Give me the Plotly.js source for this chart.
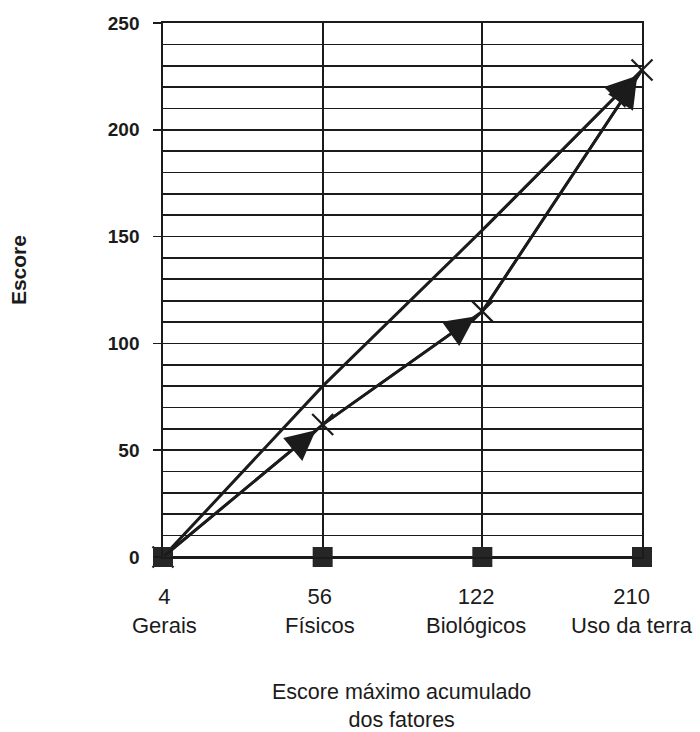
<!DOCTYPE html>
<html>
<head>
<meta charset="utf-8">
<script src="https://cdn.plot.ly/plotly-3.0.1.min.js"></script>
<style>html,body{margin:0;padding:0;background:#fff;}#chart{width:700px;height:732px;}</style>
</head>
<body>
<div id="chart"></div>
<script>
// ---- data ----
const maxScores = [4, 56, 122, 210];
const factorNames = ['Gerais', 'Físicos', 'Biológicos', 'Uso da terra'];
const scoreSeries = [0, 62, 115, 228];      // line with X markers and arrows
const upperSeries = [0, 80, 153, 228];      // plain upper line
const baseSeries = [0, 0, 0, 0];            // squares on the baseline
const yTickValues = [0, 50, 100, 150, 200, 250];

const ink = '#1b1b1b';
const categories = maxScores.map((s, i) => s + '<br>' + factorNames[i]);
// small leftward nudges of the category labels, as in the original print
const labelShift = [1, -3, -6, -10];

const traces = [
  {
    x: categories, y: upperSeries, type: 'scatter', mode: 'lines',
    line: {color: ink, width: 3}, cliponaxis: false, hoverinfo: 'skip'
  },
  {
    x: categories, y: scoreSeries, type: 'scatter', mode: 'lines+markers',
    line: {color: ink, width: 3},
    marker: {symbol: 'x-thin', size: 21, color: ink, line: {color: ink, width: 2.2}},
    cliponaxis: false, hoverinfo: 'skip'
  },
  {
    x: categories, y: baseSeries, type: 'scatter', mode: 'lines+markers',
    line: {color: ink, width: 2},
    marker: {symbol: 'square', size: 20, color: '#262626'},
    cliponaxis: false, hoverinfo: 'skip'
  }
];

const annotations = [];
function addArrow(series, i) {
  annotations.push({
    x: i, y: series[i], ax: i - 1, ay: series[i - 1],
    xref: 'x', yref: 'y', axref: 'x', ayref: 'y',
    showarrow: true, arrowhead: 2, arrowsize: 2.3, arrowwidth: 2.6,
    arrowcolor: ink, standoff: 9, text: ''
  });
}
for (let i = 1; i < scoreSeries.length; i++) addArrow(scoreSeries, i);
addArrow(upperSeries, upperSeries.length - 1);

// category labels under the axis
categories.forEach((c, i) => {
  annotations.push({
    text: c, showarrow: false,
    xref: 'x', yref: 'y', x: i, y: 0,
    xanchor: 'center', yanchor: 'top', yshift: -25, xshift: labelShift[i],
    font: {size: 22, color: ink}
  });
});

// y-axis title placed as a rotated annotation (sits a bit above the axis middle)
annotations.push({
  text: 'Escore', textangle: -90, showarrow: false,
  xref: 'paper', yref: 'paper', x: -0.303, y: 0.537,
  xanchor: 'center', yanchor: 'middle',
  font: {size: 21, color: ink, weight: 'bold'}
});
// x-axis title
annotations.push({
  text: 'Escore máximo acumulado<br>dos fatores', showarrow: false,
  xref: 'paper', yref: 'paper', x: 0.497, y: -0.279,
  xanchor: 'center', yanchor: 'middle',
  font: {size: 21.5, color: ink}
});

const layout = {
  width: 700, height: 732,
  margin: {l: 163, r: 58, t: 23, b: 175},
  paper_bgcolor: '#fff', plot_bgcolor: '#fff',
  showlegend: false,
  font: {family: 'Liberation Sans, Arial, sans-serif', color: ink},
  xaxis: {
    type: 'category', range: [0, categories.length - 1],
    showgrid: true, gridcolor: ink, gridwidth: 1.7,
    showline: true, linecolor: ink, linewidth: 1.7, mirror: true,
    zeroline: false, ticks: '', showticklabels: false
  },
  yaxis: {
    range: [0, 250], tickvals: yTickValues,
    showgrid: true, gridcolor: ink, gridwidth: 1.7,
    minor: {dtick: 10, showgrid: true, gridcolor: ink, gridwidth: 1.7, ticks: ''},
    showline: true, linecolor: ink, linewidth: 1.7, mirror: true,
    zeroline: false, ticks: 'outside', ticklen: 8, tickwidth: 1.7, tickcolor: ink,
    ticklabelstandoff: 10,
    tickfont: {size: 19, color: ink, weight: 'bold'}
  },
  annotations: annotations
};

Plotly.newPlot('chart', traces, layout, {displayModeBar: false, staticPlot: true});
</script>
</body>
</html>
